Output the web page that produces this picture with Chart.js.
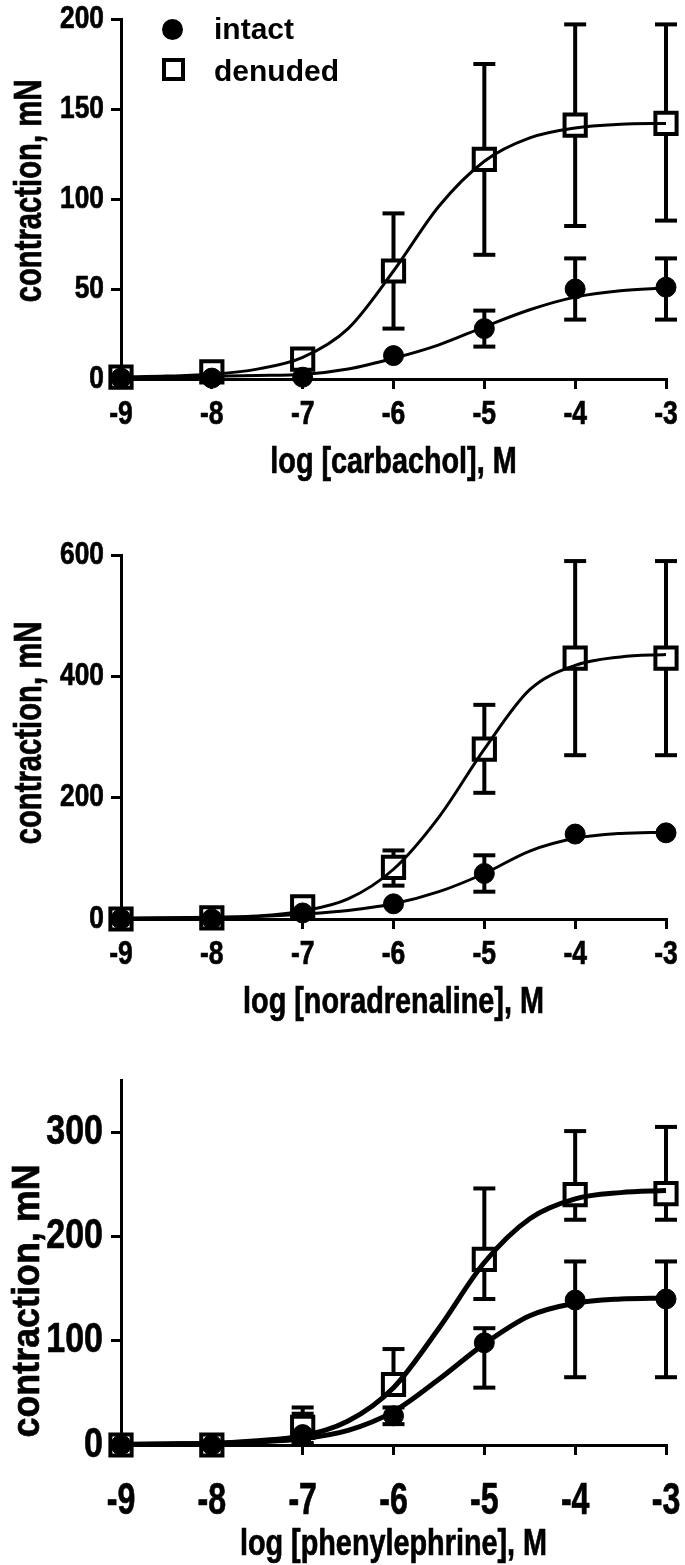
<!DOCTYPE html>
<html>
<head>
<meta charset="utf-8">
<script src="https://cdn.jsdelivr.net/npm/chart.js@4"></script>
<style>
  body { margin: 0; background: #fff; }
  #wrap { position: relative; width: 685px; height: 1565px; }
  #wrap canvas { position: absolute; left: 0; }
  .leg { position: absolute; font: bold 30px "Liberation Sans", Arial, sans-serif; color: #000; line-height: 1; }
  .dot { position: absolute; width: 21px; height: 21px; border-radius: 50%; background: #000; }
  .box { position: absolute; width: 15px; height: 15px; border: 4px solid #000; background: #fff; }
</style>
</head>
<body>
<div id="wrap">
  <canvas id="c1" width="685" height="500" style="top:0"></canvas>
  <canvas id="c2" width="685" height="525" style="top:505px"></canvas>
  <canvas id="c3" width="685" height="530" style="top:1035px"></canvas>
  <div class="dot" style="left:162px;top:19px"></div>
  <div class="leg" style="left:214px;top:14px">intact</div>
  <div class="box" style="left:162px;top:58px"></div>
  <div class="leg" style="left:214px;top:56px">denuded</div>
</div>
<script>
// log concentrations for the measured points and for the fitted curves
const doses = [-9, -8, -7, -6, -5, -4, -3];
const fitDoses = [-9, -8.5, -8, -7.5, -7, -6.5, -6, -5.5, -5, -4.5, -4, -3.5, -3];

// carbachol
const carbIntact = [0.5, 0.5, 1, 13, 28, 50, 51];
const carbIntactLo = [null, null, null, null, 18, 33, 33];
const carbIntactHi = [null, null, null, null, 38, 67, 67];
const carbDenuded = [1, 4, 11, 60, 122, 141, 142];
const carbDenudedLo = [null, null, null, 28, 69, 85, 88];
const carbDenudedHi = [null, null, null, 92, 175, 197, 197];
const carbIntactFit = [0.8, 1, 1.5, 2, 2.5, 5.5, 11.5, 19, 29, 38.5, 45.5, 49, 50.5];
const carbDenudedFit = [1.2, 1.6, 2.6, 5.5, 12, 28, 60, 96, 121, 134, 139.5, 141.5, 142];

// noradrenaline
const noraIntact = [0, 0, 10, 25, 75, 140, 142];
const noraIntactLo = [null, null, null, null, 45, null, null];
const noraIntactHi = [null, null, null, null, 105, null, null];
const noraDenuded = [0, 2, 20, 85, 280, 430, 430];
const noraDenudedLo = [null, null, null, 55, 208, 270, 270];
const noraDenudedHi = [null, null, null, 113, 353, 590, 590];
const noraIntactFit = [1, 1.5, 2, 4, 8, 14, 25, 45, 75, 112, 133, 141, 143];
const noraDenudedFit = [1.5, 2, 3, 5, 13, 33, 82, 168, 280, 378, 418, 432, 436];

// phenylephrine
const pheIntact = [0, 0, 10, 28, 98, 139, 140];
const pheIntactLo = [null, null, 0, 20, 55, 65, 65];
const pheIntactHi = [null, null, 30, 36, 112, 176, 176];
const pheDenuded = [0, 0, 17, 58, 178, 240, 241];
const pheDenudedLo = [null, null, 2, 58, 140, 216, 216];
const pheDenudedHi = [null, null, 36, 92, 246, 301, 305];
const pheIntactFit = [0.5, 1, 1.5, 3, 6, 14, 32, 63, 97, 124, 136, 140, 141];
const pheDenudedFit = [0.5, 1, 1.5, 4, 9, 23, 55, 112, 175, 217, 236, 242, 244];

function pts(xs, ys) {
  return xs.map((x, i) => ({ x: x, y: ys[i] }));
}

// each error bar is a short segment; a null point breaks the line between bars
function bars(lo, hi) {
  const out = [];
  doses.forEach((x, i) => {
    if (lo[i] !== null) out.push({ x: x, y: lo[i] }, { x: x, y: hi[i] }, { x: x, y: null });
  });
  return out;
}

// the original uses a heavy narrow face; squeeze Liberation Sans Bold to get it
function drawText(ctx, text, x, y, o) {
  ctx.save();
  ctx.translate(x, y);
  if (o.rotate) ctx.rotate(-Math.PI / 2);
  ctx.scale(o.sx, o.sy || 1);
  ctx.font = 'bold ' + o.size + 'px "Liberation Sans", Arial, sans-serif';
  ctx.fillStyle = '#000';
  ctx.strokeStyle = '#000';
  ctx.lineWidth = 0.7;
  ctx.textAlign = o.align;
  ctx.textBaseline = o.baseline;
  ctx.fillText(text, 0, 0);
  ctx.strokeText(text, 0, 0);
  ctx.restore();
}

function panel(id, p) {
  const curve = (data) => ({
    data: data, showLine: true, borderColor: '#000', borderWidth: p.curveW,
    pointRadius: 0, cubicInterpolationMode: 'monotone', clip: false, order: 0
  });
  const errs = (data) => ({
    data: data, showLine: true, spanGaps: false, borderColor: '#000', borderWidth: 4,
    pointStyle: 'line', pointRadius: 11, pointBorderWidth: 4, pointBorderColor: '#000',
    clip: false, order: 3
  });
  const labels = {
    id: 'labels',
    afterDraw(chart) {
      const { ctx, chartArea } = chart;
      const xs = chart.scales.x, ys = chart.scales.y;
      xs.ticks.forEach(t => drawText(ctx, String(t.value), xs.getPixelForValue(t.value),
        chartArea.bottom + p.xTickDy, { size: p.xTick, sx: p.xTickSx, align: 'center', baseline: 'middle' }));
      ys.ticks.forEach(t => drawText(ctx, String(t.value), chartArea.left - p.yTickDx,
        ys.getPixelForValue(t.value), { size: p.yTick, sx: p.yTickSx, align: 'right', baseline: 'middle' }));
      drawText(ctx, p.xTitle, (chartArea.left + chartArea.right) / 2, chartArea.bottom + p.xTitleDy,
        { size: p.xTitleSize, sx: 0.8, align: 'center', baseline: 'alphabetic' });
      drawText(ctx, 'contraction, mN', p.yTitleX, p.yTitleY,
        { size: p.yTitleSize, sx: p.yTitleSx, rotate: true, align: 'center', baseline: 'alphabetic' });
    }
  };
  new Chart(document.getElementById(id), {
    type: 'scatter',
    data: {
      datasets: [
        curve(pts(fitDoses, p.intactFit)),
        curve(pts(fitDoses, p.denudedFit)),
        { data: pts(doses, p.intact), pointStyle: 'circle', pointRadius: 10, pointBackgroundColor: '#000',
          pointBorderColor: '#000', pointBorderWidth: 1, clip: false, order: 1 },
        { data: pts(doses, p.denuded), pointStyle: 'rect', pointRadius: 15, pointBackgroundColor: '#fff',
          pointBorderColor: '#000', pointBorderWidth: 4, clip: false, order: 2 },
        errs(bars(p.intactLo, p.intactHi)),
        errs(bars(p.denudedLo, p.denudedHi))
      ]
    },
    options: {
      responsive: false,
      animation: false,
      layout: { padding: { top: p.top, right: p.right, left: 0, bottom: 0 } },
      plugins: { legend: { display: false }, tooltip: { enabled: false } },
      scales: {
        x: {
          type: 'linear', min: -9, max: -3,
          ticks: { stepSize: 1, display: false },
          border: { display: true, color: '#000', width: 3 },
          grid: { drawOnChartArea: false, color: '#000', lineWidth: 3, tickLength: 10 },
          afterFit: (s) => { s.height = p.xh; }
        },
        y: {
          min: 0, max: p.yMax,
          ticks: { stepSize: p.yStep, display: false },
          afterBuildTicks: (s) => { s.ticks = s.ticks.filter(t => t.value <= p.yLast); },
          border: { display: true, color: '#000', width: 3 },
          grid: { drawOnChartArea: false, color: '#000', lineWidth: 3, tickLength: 10 },
          afterFit: (s) => { s.width = 121; }
        }
      }
    },
    plugins: [labels]
  });
}

panel('c1', {
  intact: carbIntact, intactLo: carbIntactLo, intactHi: carbIntactHi,
  denuded: carbDenuded, denudedLo: carbDenudedLo, denudedHi: carbDenudedHi,
  intactFit: carbIntactFit, denudedFit: carbDenudedFit,
  xTitle: 'log [carbachol], M', yMax: 200, yStep: 50, yLast: 200,
  top: 15, right: 16, xh: 121, curveW: 3,
  xTick: 34, xTickSx: 0.78, xTickDy: 36, yTick: 31, yTickSx: 0.85, yTickDx: 17,
  xTitleSize: 36, xTitleDy: 94, yTitleSize: 38, yTitleSx: 0.77, yTitleX: 41, yTitleY: 191
});
panel('c2', {
  intact: noraIntact, intactLo: noraIntactLo, intactHi: noraIntactHi,
  denuded: noraDenuded, denudedLo: noraDenudedLo, denudedHi: noraDenudedHi,
  intactFit: noraIntactFit, denudedFit: noraDenudedFit,
  xTitle: 'log [noradrenaline], M', yMax: 600, yStep: 200, yLast: 600,
  top: 50, right: 16, xh: 111, curveW: 3,
  xTick: 34, xTickSx: 0.78, xTickDy: 36, yTick: 31, yTickSx: 0.85, yTickDx: 17,
  xTitleSize: 36, xTitleDy: 94, yTitleSize: 38, yTitleSx: 0.77, yTitleX: 41, yTitleY: 228
});
panel('c3', {
  intact: pheIntact, intactLo: pheIntactLo, intactHi: pheIntactHi,
  denuded: pheDenuded, denudedLo: pheDenudedLo, denudedHi: pheDenudedHi,
  intactFit: pheIntactFit, denudedFit: pheDenudedFit,
  xTitle: 'log [phenylephrine], M', yMax: 350, yStep: 100, yLast: 300,
  top: 45, right: 15, xh: 120, curveW: 5,
  xTick: 44, xTickSx: 0.73, xTickDy: 57, yTick: 42, yTickSx: 0.81, yTickDx: 18,
  xTitleSize: 36, xTitleDy: 110, yTitleSize: 39, yTitleSx: 0.92, yTitleX: 39, yTitleY: 266
});
</script>
</body>
</html>
